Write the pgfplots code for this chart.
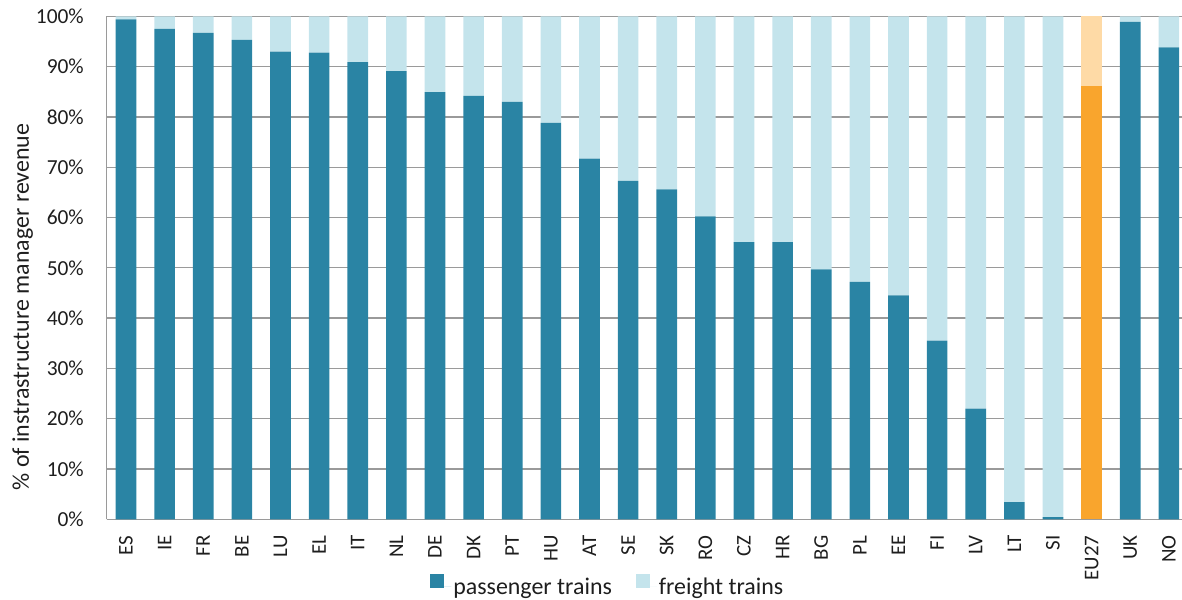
\documentclass[border=0pt]{standalone}
\usepackage{fontspec}
\setmainfont{Carlito}
\usepackage{pgfplots}
\usepackage{pgfplotstable}
\pgfplotsset{compat=1.18}
\definecolor{pass}{HTML}{2A84A4}
\definecolor{frei}{HTML}{C4E4EC}
\definecolor{eupass}{HTML}{F9A52D}
\definecolor{eufrei}{HTML}{FEDAA6}
\definecolor{gridc}{HTML}{9A9A9A}
\definecolor{txt}{HTML}{1E1E1E}
\pgfplotstableread{
x pass frei eup euf
0 99.4 0.6 0 0
1 97.5 2.5 0 0
2 96.7 3.3 0 0
3 95.3 4.7 0 0
4 93.0 7.0 0 0
5 92.8 7.2 0 0
6 90.9 9.1 0 0
7 89.1 10.9 0 0
8 84.9 15.1 0 0
9 84.2 15.8 0 0
10 83.0 17.0 0 0
11 78.8 21.2 0 0
12 71.7 28.3 0 0
13 67.3 32.7 0 0
14 65.6 34.4 0 0
15 60.2 39.8 0 0
16 55.1 44.9 0 0
17 55.1 44.9 0 0
18 49.7 50.3 0 0
19 47.2 52.8 0 0
20 44.5 55.5 0 0
21 35.5 64.5 0 0
22 22.0 78.0 0 0
23 3.4 96.6 0 0
24 0.45 99.55 0 0
25 0 0 86.1 13.9
26 98.9 1.1 0 0
27 93.8 6.2 0 0
}\data
\pgfplotsset{sqleg/.style={legend image code/.code={\path (0bp,0bp) -- (21bp,0bp); \fill[##1] (0bp,-1bp) rectangle (14bp,13bp);}}}
\begin{document}
\begin{tikzpicture}
\begin{axis}[
  scale only axis, width=1075.3bp, height=503bp,
  ybar stacked, bar width=0.536,
  xmin=-0.5, xmax=27.34, ymin=0, ymax=100,
  enlargelimits=false,
  axis x line=bottom, axis y line=left,
  axis line style={gridc, line width=1.3bp, -},
  major tick length=0pt,
  ymajorgrids, grid style={gridc, line width=1.3bp},
  ytick={0,10,...,100},
  /pgf/number format/assume math mode=true,
  yticklabel={\pgfmathprintnumber{\tick}\%},
  yticklabel style={font=\fontsize{21.5}{22}\selectfont, text=txt, anchor=east, inner sep=0pt, xshift=-22.7bp},
  xtick=data,
  xticklabels={ES,IE,FR,BE,LU,EL,IT,NL,DE,DK,PT,HU,AT,SE,SK,RO,CZ,HR,BG,PL,EE,FI,LV,LT,SI,EU27,UK,NO},
  xticklabel style={font=\fontsize{21}{22}\selectfont, text=txt, rotate=90, anchor=east, inner sep=0pt},
  xticklabel shift=16bp,
  ylabel={\% of instrastructure manager revenue},
  ylabel style={font=\fontsize{24}{26}\selectfont, text=txt, at={(axis description cs:-0.0780,0.422)}, anchor=center, rotate=0},
  legend style={at={(axis description cs:0.466,-0.1326)}, anchor=center, draw=none, fill=none,
    legend columns=2, font=\fontsize{24}{26}\selectfont, text=txt,
    /tikz/every even column/.append style={column sep=22bp}},
  legend cell align=left,
]
\addplot[fill=pass, draw=none, sqleg] table[x=x, y=pass] {\data};
\addlegendentry{passenger trains}
\addplot[fill=frei, draw=none, sqleg] table[x=x, y=frei] {\data};
\addlegendentry{freight trains}
\addplot[fill=eupass, draw=none, forget plot] table[x=x, y=eup] {\data};
\addplot[fill=eufrei, draw=none, forget plot] table[x=x, y=euf] {\data};
\end{axis}
\pgfresetboundingbox
\path (-106.7bp,-80.7bp) rectangle (1075.3bp,519.3bp);
\end{tikzpicture}
\end{document}
